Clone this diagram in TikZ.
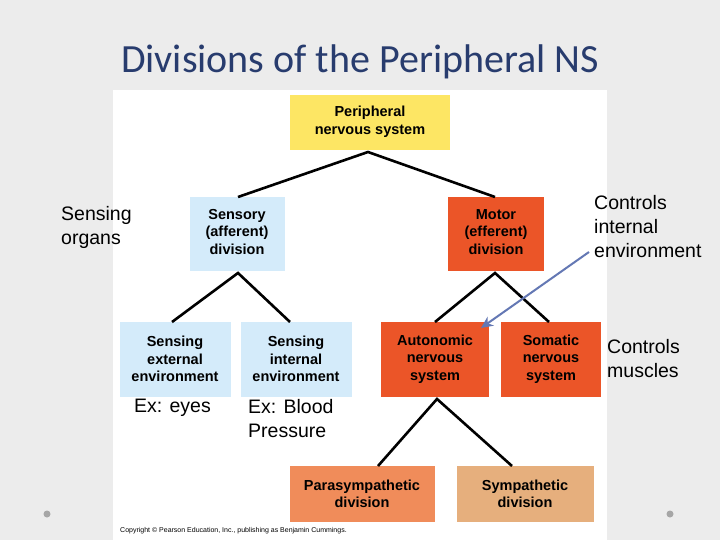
\documentclass[tikz,border=0pt]{standalone}
\usepackage{fontspec}
\usetikzlibrary{arrows.meta}
\setmainfont{Liberation Sans}
\newfontfamily\titlefont{Carlito}
\definecolor{bgc}{RGB}{236,236,236}
\definecolor{yel}{RGB}{253,230,100}
\definecolor{lblue}{RGB}{212,235,250}
\definecolor{ored}{RGB}{235,85,40}
\definecolor{para}{RGB}{240,140,90}
\definecolor{symp}{RGB}{230,175,125}
\definecolor{arrowc}{RGB}{100,120,180}
\definecolor{titlec}{RGB}{40,60,110}
\tikzset{
 box/.style={inner sep=0pt, font=\bfseries\fontsize{14.5}{17.5}\selectfont, align=center},
 link/.style={line width=2.6pt, black},
 note/.style={font=\fontsize{19.5}{24}\selectfont, align=left, anchor=north west, inner sep=0pt}
}
\begin{document}
\begin{tikzpicture}[x=1pt,y=-1pt]
\fill[bgc] (0,0) rectangle (720,540);
\fill[white] (113,90) rectangle (607,540);
\useasboundingbox (0,0) rectangle (720,540);
\node[font=\titlefont\fontsize{40}{44}\selectfont, text=titlec] (title) at (360,62) {Divisions of the Peripheral NS};
% boxes
\path[fill=yel] (290,95) rectangle (450,150);
\node[box] (pns) at (370,122) {Peripheral\\nervous system};
\path[fill=lblue] (190,197) rectangle (285,271);
\node[box] (sens) at (237,232) {Sensory\\(afferent)\\division};
\path[fill=ored] (448,197) rectangle (544,271);
\node[box] (mot) at (496,232) {Motor\\(efferent)\\division};
\path[fill=lblue] (120,322) rectangle (231,397);
\node[box] (ext) at (175,359) {Sensing\\external\\environment};
\path[fill=lblue] (241,322) rectangle (352,397);
\node[box] (int) at (296,359) {Sensing\\internal\\environment};
\path[fill=ored] (381,322) rectangle (489,397);
\node[box] (aut) at (435,359) {Autonomic\\nervous\\system};
\path[fill=ored] (501,322) rectangle (601,397);
\node[box] (som) at (551,359) {Somatic\\nervous\\system};
\path[fill=para] (290,466) rectangle (435,522);
\node[box] (par) at (362,494) {Parasympathetic\\division};
\path[fill=symp] (457,466) rectangle (594,522);
\node[box] (sym) at (525,494) {Sympathetic\\division};
% connectors
\coordinate (pnsb) at (368,152);
\coordinate (sensT) at (238,197);
\coordinate (motT) at (495,197);
\coordinate (sensB) at (238,273);
\coordinate (extT) at (172,322);
\coordinate (intT) at (290,322);
\coordinate (motB) at (495,273);
\coordinate (autT) at (435,322);
\coordinate (somT) at (549,322);
\coordinate (autB) at (437,399);
\coordinate (parT) at (378,466);
\coordinate (symT) at (512,466);
\draw[link] (sensT) -- (pnsb) -- (motT);
\draw[link] (extT) -- (sensB) -- (intT);
\draw[link] (autT) -- (motB) -- (somT);
\draw[link] (parT) -- (autB) -- (symT);
% notes
\node[note] (n1) at (61,206) {Sensing\\organs};
\node[note] (n2) at (594,195) {Controls\\internal\\environment};
\node[note] (n3) at (607,339) {Controls\\muscles};
\node[note] (n4) at (134,399) {Ex: eyes};
\node[note] (n5) at (248,399) {Ex: Blood\\Pressure};
\coordinate (arrS) at (589,252);
\coordinate (arrE) at (481,328);
\draw[arrowc, line width=2pt, -{Stealth[length=12pt,width=11pt]}] (arrS) -- (arrE);
\node[font=\fontsize{7}{8}\selectfont, anchor=west, inner sep=0pt] (copy) at (120,531) {Copyright \textcopyright\ Pearson Education, Inc., publishing as Benjamin Cummings.};
% dots
\fill[gray!70] (47,514) circle (3.5);
\fill[gray!70] (670,514) circle (3.5);
\end{tikzpicture}
\end{document}
